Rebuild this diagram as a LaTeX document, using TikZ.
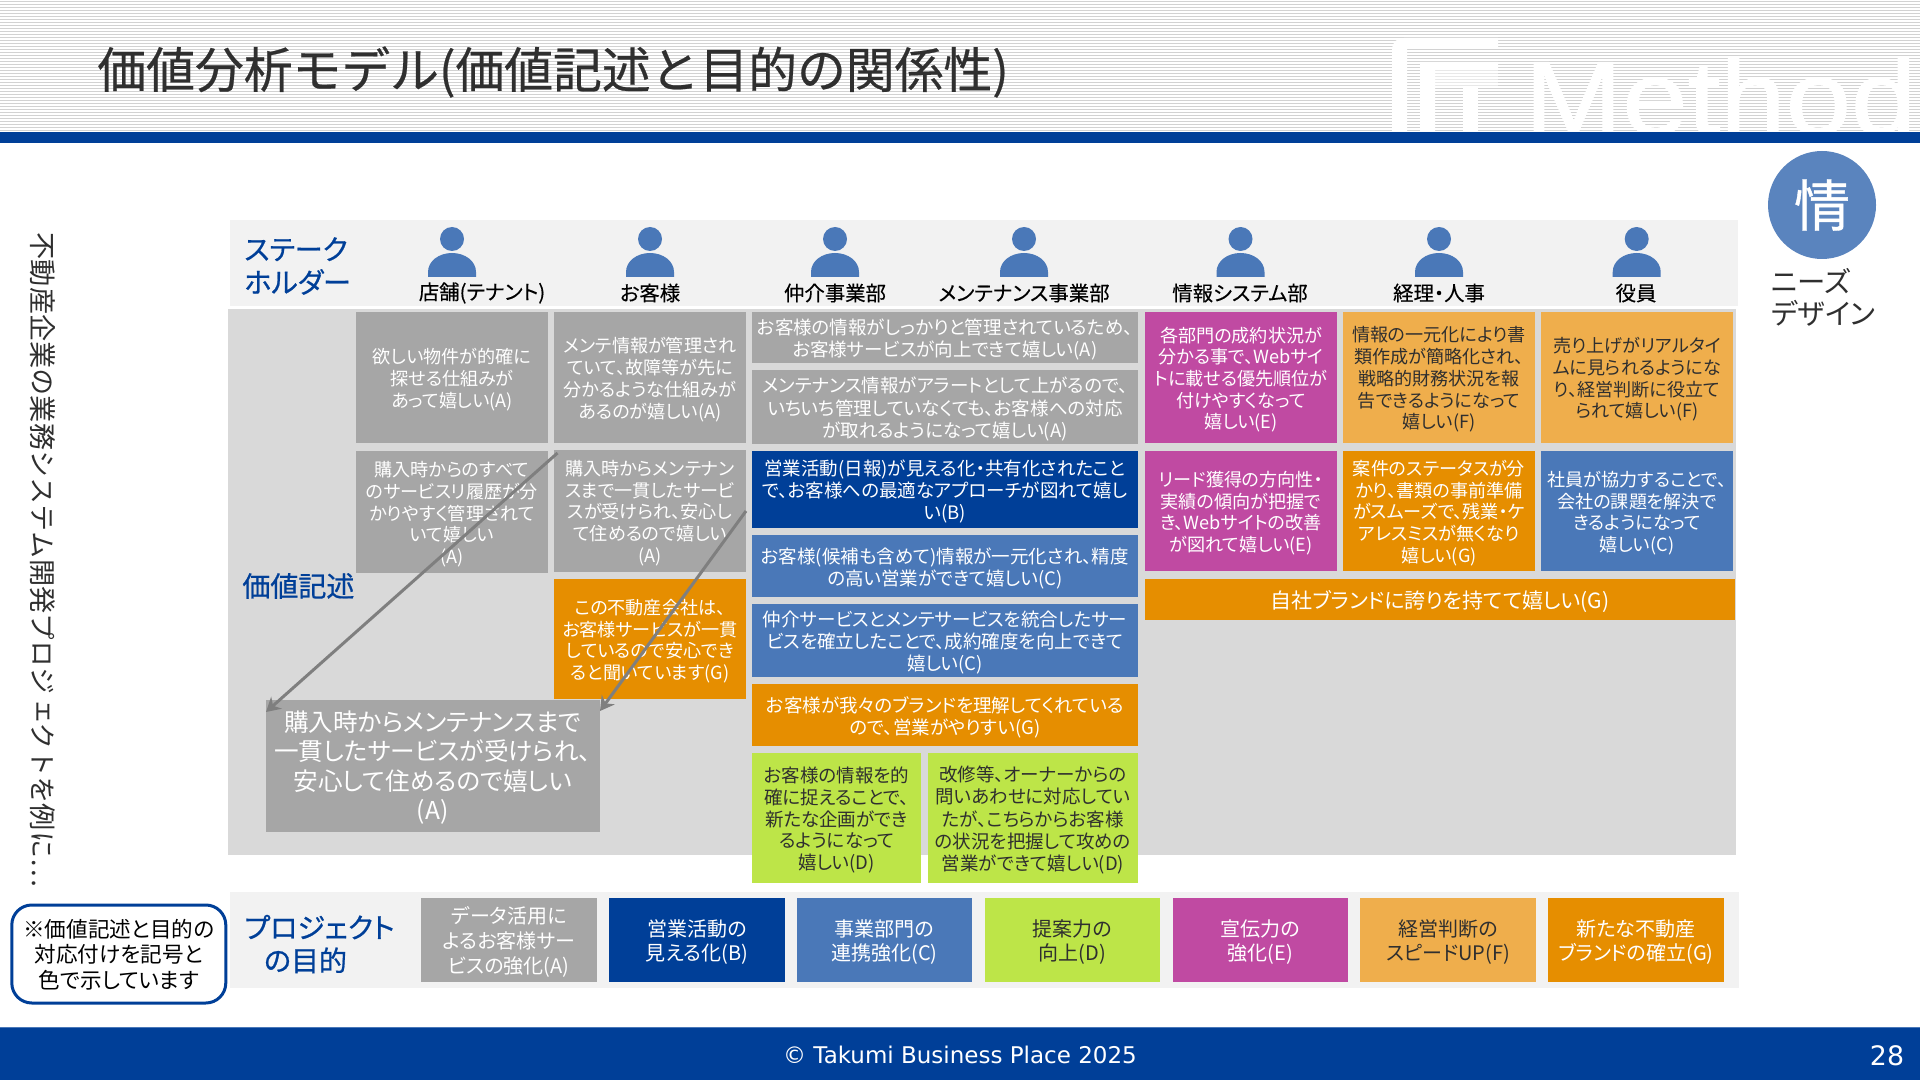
\documentclass[tikz,border=0pt]{standalone}
\usepackage{fontspec}
\usetikzlibrary{arrows.meta}
\setmainfont{Noto Sans CJK JP}[RawFeature={+palt}]
\newfontfamily\vertfont{Noto Sans CJK JP}[Vertical=RotatedGlyphs]
\newfontfamily\titlefont{Noto Sans CJK JP}[FakeBold=0.5]
\newfontfamily\headfont{Noto Sans CJK JP}[RawFeature={+palt},FakeBold=0.7]
\newfontfamily\stakefont{Noto Sans CJK JP}[RawFeature={+palt},FakeBold=0.25]
\newfontfamily\footfont{DejaVu Sans}
\newfontfamily\logofont{Liberation Sans}[FakeBold=1]
\definecolor{navy}{HTML}{003F98}
\definecolor{midblue}{HTML}{4A78B8}
\definecolor{circblue}{HTML}{5A84BE}
\definecolor{boxgrey}{HTML}{A6A6A6}
\definecolor{areagrey}{HTML}{D9D9D9}
\definecolor{bandgrey}{HTML}{F2F2F2}
\definecolor{leaf}{HTML}{BDE548}
\definecolor{pinkish}{HTML}{C04AA2}
\definecolor{lightorange}{HTML}{EFAE4C}
\definecolor{deeporange}{HTML}{E68E00}
\definecolor{inkdark}{HTML}{2F2F2F}
\definecolor{arrowgrey}{HTML}{7F7F7F}
\definecolor{stripegrey}{HTML}{D2D2D2}
\newcommand{\fpx}[2]{\fontsize{#1}{#2}\selectfont}
\tikzset{
  cell/.style={inner sep=0pt,align=center,text=white,font=\fpx{9.05}{10.8}},
  darkcell/.style={cell,text=inkdark},
  wide/.style={cell,font=\fpx{9.25}{10.8}},
  widedark/.style={wide,text=inkdark},
  head/.style={text=navy,font=\headfont\fpx{14}{16.5},align=left,inner sep=0pt,anchor=west},
  stake/.style={text=black,font=\stakefont\fpx{10.2}{12},inner sep=0pt},
  flow/.style={draw=arrowgrey,line width=1.5pt,-{Stealth[length=7pt,width=8pt]}},
}
% text lowered inside its node, so that it sits where the reference has it
\newcommand{\Lower}[1]{\raisebox{-1.75pt}[\height][\depth]{\begin{tabular}{@{}c@{}}#1\end{tabular}}}
% name, style, x1, y1, x2, y2, text
\newcommand{\Cell}[7]{%
  \pgfmathsetmacro\bxw{(#5-#3)/2}%
  \pgfmathsetmacro\bxh{(#6-#4)/2}%
  \pgfmathsetmacro\bxcx{(#5+#3)/2}%
  \pgfmathsetmacro\bxcy{(#6+#4)/2}%
  \node[#2,minimum width=\bxw pt,minimum height=\bxh pt] (#1) at (\bxcx,\bxcy) {\Lower{#7}};%
}
\newcommand{\Person}[1]{%
  \fill[midblue] (#1,239) ellipse (12 and 12);
  \fill[midblue] (#1-24,277) -- (#1-24,272) .. controls (#1-24,261) and (#1-13,253) .. (#1,253)
     .. controls (#1+13,253) and (#1+24,261) .. (#1+24,272) -- (#1+24,277) -- cycle;
}
\begin{document}
\begin{tikzpicture}[x=0.5pt,y=-0.5pt]
\useasboundingbox (0,0) rectangle (1920,1080);
\fill[white] (0,0) rectangle (1920,1080);
% header stripes
\foreach \s in {0,3,...,129}{\fill[stripegrey] (0,\s+1) rectangle (1920,\s+2.5);}
% logo
\begin{scope}
\clip (0,0) rectangle (1920,132);
\node[anchor=base west,inner sep=0pt,text=white,xscale=1.13,font=\logofont\fontsize{52}{58}\selectfont] (logotext) at (1524,134) {Method};
\fill[white] (1392,132) -- (1392,50) .. controls (1392,42) and (1397,38) .. (1404,38) -- (1498,38) -- (1498,48) -- (1407,48) -- (1407,132) -- cycle;
\fill[white] (1420,132) -- (1420,62) -- (1498,62) -- (1498,69) -- (1435,69) -- (1435,132) -- cycle;
\fill[white,opacity=.5] (1435,69) rectangle (1498,88);
\fill[white] (1463,88) rectangle (1478,132);
\end{scope}
\fill[navy] (0,132) rectangle (1920,143);
\node[anchor=west,inner sep=0pt,text=inkdark,font=\titlefont\fpx{24.4}{28}] (title) at (97,72) {価値分析モデル(価値記述と目的の関係性)};
% bands
\fill[bandgrey] (230,220) rectangle (1738,306);
\fill[areagrey] (228,309) rectangle (1736,855);
\fill[bandgrey] (230,892) rectangle (1739,988);
% side text
\node[rotate=-90,inner sep=0pt,text=inkdark,font=\vertfont\fpx{13.6}{15}] (sidetext) at (43,560) {不動産企業の業務システム開発プロジェクトを例に…};
% stakeholders
\node[head] (hstake) at (244,266) {ステーク\\ホルダー};
\foreach \p in {452,650,835,1024,1240.5,1439,1636.7}{\Person{\p}}
\node[stake] (s1) at (482,293) {店舗(テナント)};
\node[stake] (s2) at (650,293) {お客様};
\node[stake] (s3) at (835,293) {仲介事業部};
\node[stake] (s4) at (1024,293) {メンテナンス事業部};
\node[stake] (s5) at (1240,293) {情報システム部};
\node[stake] (s6) at (1439,293) {経理・人事};
\node[stake] (s7) at (1636,293) {役員};
\node[head] (hvalue) at (242,586) {価値記述};
% column 1 & 2
\Cell{a1}{cell,fill=boxgrey}{356}{312}{548}{443}{欲しい物件が的確に\\探せる仕組みが\\あって嬉しい(A)}
\Cell{a2}{cell,fill=boxgrey}{356}{451}{548}{573}{購入時からのすべて\\のサービスリ履歴が分\\かりやすく管理されて\\いて嬉しい\\(A)}
\Cell{b1}{cell,fill=boxgrey}{554}{312}{746}{443}{メンテ情報が管理され\\ていて、故障等が先に\\分かるような仕組みが\\あるのが嬉しい(A)}
\Cell{b2}{cell,fill=boxgrey}{554}{450}{746}{572}{購入時からメンテナン\\スまで一貫したサービ\\スが受けられ、安心し\\て住めるので嬉しい\\(A)}
\Cell{b3}{cell,fill=deeporange}{554}{579}{746}{699}{この不動産会社は、\\お客様サービスが一貫\\しているので安心でき\\ると聞いています(G)}
% column 3
\Cell{c1}{wide,fill=boxgrey}{752}{312}{1138}{363}{お客様の情報がしっかりと管理されているため、\\お客様サービスが向上できて嬉しい(A)}
\Cell{c2}{wide,fill=boxgrey}{752}{370}{1138}{444}{メンテナンス情報がアラートとして上がるので、\\いちいち管理していなくても、お客様への対応\\が取れるようになって嬉しい(A)}
\Cell{c3}{wide,fill=navy}{752}{451}{1138}{528}{営業活動(日報)が見える化・共有化されたこと\\で、お客様への最適なアプローチが図れて嬉し\\い(B)}
\Cell{c4}{wide,fill=midblue}{752}{535}{1138}{597}{お客様(候補も含めて)情報が一元化され、精度\\の高い営業ができて嬉しい(C)}
\Cell{c5}{wide,fill=midblue}{752}{604}{1138}{677}{仲介サービスとメンテサービスを統合したサー\\ビスを確立したことで、成約確度を向上できて\\嬉しい(C)}
\Cell{c6}{wide,fill=deeporange}{752}{684}{1138}{746}{お客様が我々のブランドを理解してくれている\\ので、営業がやりすい(G)}
\Cell{c7}{widedark,fill=leaf}{752}{753}{921}{883}{お客様の情報を的\\確に捉えることで、\\新たな企画ができ\\るようになって\\嬉しい(D)}
\Cell{c8}{widedark,fill=leaf}{928}{753}{1138}{883}{改修等、オーナーからの\\問いあわせに対応してい\\たが、こちらからお客様\\の状況を把握して攻めの\\営業ができて嬉しい(D)}
% right columns
\Cell{e1}{cell,fill=pinkish}{1145}{312}{1337}{443}{各部門の成約状況が\\分かる事で、Webサイ\\トに載せる優先順位が\\付けやすくなって\\嬉しい(E)}
\Cell{e2}{cell,fill=pinkish}{1145}{451}{1337}{571}{リード獲得の方向性・\\実績の傾向が把握で\\き、Webサイトの改善\\が図れて嬉しい(E)}
\Cell{f1}{darkcell,fill=lightorange}{1343}{312}{1535}{443}{情報の一元化により書\\類作成が簡略化され、\\戦略的財務状況を報\\告できるようになって\\嬉しい(F)}
\Cell{f2}{cell,fill=deeporange}{1343}{451}{1535}{571}{案件のステータスが分\\かり、書類の事前準備\\がスムーズで、残業・ケ\\アレスミスが無くなり\\嬉しい(G)}
\Cell{g1}{darkcell,fill=lightorange}{1541}{312}{1733}{443}{売り上げがリアルタイ\\ムに見られるようにな\\り、経営判断に役立て\\られて嬉しい(F)}
\Cell{g2}{cell,fill=midblue}{1541}{451}{1733}{571}{社員が協力することで、\\会社の課題を解決で\\きるようになって\\嬉しい(C)}
\Cell{h1}{cell,font=\fpx{10.5}{12},fill=deeporange}{1145}{579}{1735}{620}{自社ブランドに誇りを持てて嬉しい(G)}
% enlarged box and arrows
\Cell{big}{cell,font=\fpx{12.3}{14.6},fill=boxgrey}{265.5}{700}{600}{832}{購入時からメンテナンスまで\\一貫したサービスが受けられ、\\安心して住めるので嬉しい\\(A)}
\coordinate (fa) at (557.5,453);
\coordinate (ta) at (266,712);
\coordinate (fb) at (746,511);
\coordinate (tb) at (600,711);
\draw[flow] (fa) -- (ta);
\draw[flow] (fb) -- (tb);
% purposes
\node[head] (hpurpose) at (244,944) {プロジェクト\\\hspace*{.7em}の目的};
\tikzset{pcell/.style={cell,font=\fpx{10}{12.4}},pdark/.style={pcell,text=inkdark}}
\Cell{p1}{pcell,fill=boxgrey}{421}{898}{597}{982}{データ活用に\\よるお客様サー\\ビスの強化(A)}
\Cell{p2}{pcell,fill=navy}{609}{898}{785}{982}{営業活動の\\見える化(B)}
\Cell{p3}{pcell,fill=midblue}{797}{898}{972}{982}{事業部門の\\連携強化(C)}
\Cell{p4}{pdark,fill=leaf}{984.5}{898}{1160}{982}{提案力の\\向上(D)}
\Cell{p5}{pcell,fill=pinkish}{1172.5}{898}{1348}{982}{宣伝力の\\強化(E)}
\Cell{p6}{pdark,fill=lightorange}{1360}{898}{1536}{982}{経営判断の\\スピードUP(F)}
\Cell{p7}{pcell,fill=deeporange}{1548}{898}{1724}{982}{新たな不動産\\ブランドの確立(G)}
% note
\node[draw=navy,line width=1.5pt,fill=white,rounded corners=10pt,minimum width=107pt,minimum height=49pt,inner sep=0pt,align=center,text=black,font=\fpx{10.8}{12.2}] (note) at (118.8,954) {\Lower{※価値記述と目的の\\対応付けを記号と\\色で示しています}};
% circle
\node[circle,fill=circblue,minimum size=54pt,inner sep=0pt,text=white,font=\headfont\fpx{28}{30}] (jo) at (1822,205) {情};
\node[anchor=west,inner sep=0pt,align=left,text=inkdark,font=\fpx{14.2}{16}] (needs) at (1771,297) {ニーズ\\デザイン};
% footer
\fill[navy] (0,1027) rectangle (1920,1080);
\draw[color=midblue,line width=.5pt] (0,1027) -- (1920,1027);
\node[text=white,inner sep=0pt,font=\footfont\fpx{11.5}{13}] (foot) at (960,1055) {© Takumi Business Place 2025};
\node[text=white,inner sep=0pt,font=\footfont\fpx{13.4}{15}] (page) at (1887,1056) {28};
\end{tikzpicture}
\end{document}
